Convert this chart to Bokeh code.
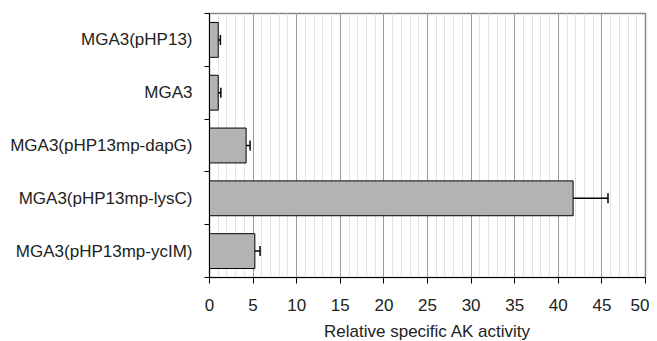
from bokeh.plotting import figure
from bokeh.models import ColumnDataSource, FixedTicker, Whisker, TeeHead, Range1d
from bokeh.embed import file_html
from bokeh.resources import INLINE

# Data (top to bottom)
strains = ["MGA3(pHP13)", "MGA3", "MGA3(pHP13mp-dapG)", "MGA3(pHP13mp-lysC)", "MGA3(pHP13mp-ycIM)"]
activity = [1.0, 1.0, 4.2, 41.7, 5.2]
errors = [0.25, 0.3, 0.45, 4.0, 0.6]
x_ticks = [0, 5, 10, 15, 20, 25, 30, 35, 40, 45, 50]

n = len(strains)
ypos = [n - i - 0.5 for i in range(n)]
src = ColumnDataSource(dict(
    y=ypos, right=activity,
    lower=[a - e for a, e in zip(activity, errors)],
    upper=[a + e for a, e in zip(activity, errors)],
))

FONT = "Liberation Sans"

p = figure(width=649, height=333, output_backend="svg", toolbar_location=None,
           x_range=Range1d(0, 50), y_range=Range1d(0, n),
           min_border_left=209, min_border_right=4, min_border_top=13, min_border_bottom=56)
p.frame_width = 436
p.frame_height = 264

p.hbar(y="y", right="right", left=0, height=0.66, source=src,
       fill_color="#b3b3b3", line_color="black", line_width=1)

w = Whisker(source=src, base="y", lower="lower", upper="upper", dimension="width",
            line_color="black", line_width=1.5,
            lower_head=TeeHead(size=10, line_color="black", line_width=1.5),
            upper_head=TeeHead(size=10, line_color="black", line_width=1.5))
p.add_layout(w)

# x axis
p.xaxis.ticker = FixedTicker(ticks=x_ticks, minor_ticks=list(range(0, 51)))
p.xaxis.axis_label = "Relative specific AK activity"
p.xaxis.axis_label_text_font = FONT
p.xaxis.axis_label_text_font_size = "17px"
p.xaxis.axis_label_text_font_style = "normal"
p.xaxis.axis_label_text_color = "#222222"
p.xaxis.axis_label_standoff = 8
p.xaxis.major_label_text_font = FONT
p.xaxis.major_label_text_font_size = "17px"
p.xaxis.major_label_text_color = "#222222"
p.xaxis.major_label_standoff = 15
p.xaxis.major_tick_out = 6
p.xaxis.major_tick_in = 0
p.xaxis.minor_tick_out = 0
p.xaxis.minor_tick_in = 0
p.xaxis.axis_line_color = "black"
p.xaxis.major_tick_line_color = "black"

# y axis
p.yaxis.ticker = FixedTicker(ticks=ypos, minor_ticks=list(range(0, n + 1)))
p.yaxis.major_label_overrides = {yy: s for yy, s in zip(ypos, strains)}
p.yaxis.major_label_text_font = FONT
p.yaxis.major_label_text_font_size = "17px"
p.yaxis.major_label_text_color = "#222222"
p.yaxis.major_label_standoff = 12
p.yaxis.major_tick_out = 0
p.yaxis.major_tick_in = 0
p.yaxis.minor_tick_out = 5
p.yaxis.minor_tick_in = 0
p.yaxis.minor_tick_line_color = "black"
p.yaxis.axis_line_color = "black"

# grid
p.ygrid.grid_line_color = None
p.xgrid.grid_line_color = "#9a9a9a"
p.xgrid.minor_grid_line_color = "#e3e3e3"

p.outline_line_color = "#888888"
p.outline_line_width = 1.5
p.background_fill_color = "white"
p.border_fill_color = "white"

open("out.html", "w").write(file_html(p, INLINE))
